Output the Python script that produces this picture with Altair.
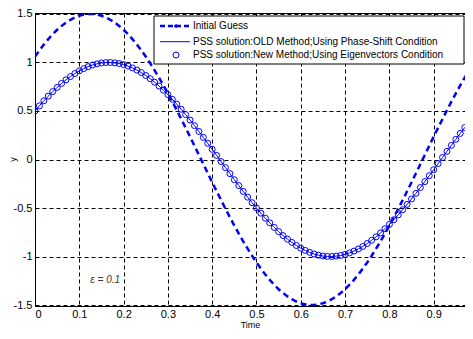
import altair as alt
import pandas as pd

# time grid
t = [0.00, 0.01, 0.02, 0.03, 0.04, 0.05, 0.06, 0.07, 0.08, 0.09,
     0.10, 0.11, 0.12, 0.13, 0.14, 0.15, 0.16, 0.17, 0.18, 0.19,
     0.20, 0.21, 0.22, 0.23, 0.24, 0.25, 0.26, 0.27, 0.28, 0.29,
     0.30, 0.31, 0.32, 0.33, 0.34, 0.35, 0.36, 0.37, 0.38, 0.39,
     0.40, 0.41, 0.42, 0.43, 0.44, 0.45, 0.46, 0.47, 0.48, 0.49,
     0.50, 0.51, 0.52, 0.53, 0.54, 0.55, 0.56, 0.57, 0.58, 0.59,
     0.60, 0.61, 0.62, 0.63, 0.64, 0.65, 0.66, 0.67, 0.68, 0.69,
     0.70, 0.71, 0.72, 0.73, 0.74, 0.75, 0.76, 0.77, 0.78, 0.79,
     0.80, 0.81, 0.82, 0.83, 0.84, 0.85, 0.86, 0.87, 0.88, 0.89,
     0.90, 0.91, 0.92, 0.93, 0.94, 0.95, 0.96, 0.97, 0.98, 0.99]

# Initial guess (dashed)
initial_guess = [
    1.061, 1.125, 1.185, 1.241, 1.291, 1.337, 1.377, 1.411, 1.440, 1.464,
    1.482, 1.493, 1.499, 1.499, 1.493, 1.482, 1.464, 1.440, 1.411, 1.377,
    1.337, 1.291, 1.241, 1.185, 1.125, 1.061, 0.992, 0.919, 0.843, 0.764,
    0.681, 0.596, 0.508, 0.418, 0.327, 0.235, 0.141, 0.047, -0.047, -0.141,
    -0.235, -0.327, -0.418, -0.508, -0.596, -0.681, -0.764, -0.843, -0.919, -0.992,
    -1.061, -1.125, -1.185, -1.241, -1.291, -1.337, -1.377, -1.411, -1.440, -1.464,
    -1.482, -1.493, -1.499, -1.499, -1.493, -1.482, -1.464, -1.440, -1.411, -1.377,
    -1.337, -1.291, -1.241, -1.185, -1.125, -1.061, -0.992, -0.919, -0.843, -0.764,
    -0.681, -0.596, -0.508, -0.418, -0.327, -0.235, -0.141, -0.047, 0.047, 0.141,
    0.235, 0.327, 0.418, 0.508, 0.596, 0.681, 0.764, 0.843, 0.919, 0.992]

# PSS solution (old method line and new method circles coincide)
pss_old = [
    0.500, 0.553, 0.605, 0.653, 0.700, 0.743, 0.784, 0.821, 0.855, 0.886,
    0.914, 0.937, 0.957, 0.974, 0.986, 0.995, 0.999, 1.000, 0.996, 0.989,
    0.978, 0.963, 0.944, 0.922, 0.896, 0.866, 0.833, 0.797, 0.757, 0.714,
    0.669, 0.621, 0.571, 0.518, 0.463, 0.407, 0.349, 0.289, 0.228, 0.167,
    0.105, 0.042, -0.021, -0.084, -0.146, -0.208, -0.269, -0.329, -0.388, -0.445,
    -0.500, -0.553, -0.605, -0.653, -0.700, -0.743, -0.784, -0.821, -0.855, -0.886,
    -0.914, -0.937, -0.957, -0.974, -0.986, -0.995, -0.999, -1.000, -0.996, -0.989,
    -0.978, -0.963, -0.944, -0.922, -0.896, -0.866, -0.833, -0.797, -0.757, -0.714,
    -0.669, -0.621, -0.571, -0.518, -0.463, -0.407, -0.349, -0.289, -0.228, -0.167,
    -0.105, -0.042, 0.021, 0.084, 0.146, 0.208, 0.269, 0.329, 0.388, 0.445]
pss_new = list(pss_old)

x_ticks = [0, 0.1, 0.2, 0.3, 0.4, 0.5, 0.6, 0.7, 0.8, 0.9]
y_ticks = [-1.5, -1, -0.5, 0, 0.5, 1, 1.5]
legend_labels = ["Initial Guess",
                 "PSS solution:OLD Method;Using Phase-Shift Condition",
                 "PSS solution:New Method;Using Eigenvectors Condition"]
annotation = "\u03b5 = 0.1"

BLUE = "#0000ff"
FONT = "Liberation Sans"
W, H = 430, 293

df = pd.DataFrame({"t": t, "guess": initial_guess, "old": pss_old, "new": pss_new})

xscale = alt.Scale(domain=[0, 0.9707], nice=False, zero=False)
yscale = alt.Scale(domain=[-1.51, 1.51], nice=False, zero=False)

xaxis = alt.Axis(values=x_ticks, labelExpr="'' + datum.value", ticks=False,
                 grid=True, gridDash=[4, 3], gridColor="#000", gridWidth=1,
                 domainColor="#000", labelFont=FONT, labelFontSize=11,
                 labelColor="#000", labelPadding=2, title="Time",
                 titleFont=FONT, titleFontSize=9, titleFontWeight="normal",
                 titleColor="#000", titlePadding=1)
yaxis = alt.Axis(values=y_ticks, labelExpr="'' + datum.value", ticks=False,
                 grid=True, gridDash=[4, 3], gridColor="#000", gridWidth=1,
                 domainColor="#000", labelFont=FONT, labelFontSize=11,
                 labelColor="#000", labelPadding=3, title="y",
                 titleFont=FONT, titleFontSize=9, titleFontWeight="normal",
                 titleColor="#000", titleX=-18, titleY=146)

base = alt.Chart(df)

guess_line = base.mark_line(color=BLUE, strokeWidth=2.5, strokeDash=[6, 4], clip=True).encode(
    x=alt.X("t:Q", scale=xscale, axis=xaxis),
    y=alt.Y("guess:Q", scale=yscale, axis=yaxis),
)
old_line = base.mark_line(color=BLUE, strokeWidth=1, clip=True).encode(
    x=alt.X("t:Q", scale=xscale),
    y=alt.Y("old:Q", scale=yscale),
)
new_pts = base.mark_point(shape="circle", filled=False, color=BLUE, size=36,
                          strokeWidth=1, opacity=1, clip=True).encode(
    x=alt.X("t:Q", scale=xscale),
    y=alt.Y("new:Q", scale=yscale),
)

eps_df = pd.DataFrame({"x": [0.125], "y": [-1.24], "label": [annotation]})
eps_text = alt.Chart(eps_df).mark_text(align="left", baseline="middle", font=FONT,
                                        fontSize=10, fontStyle="italic",
                                        color="#333").encode(
    x=alt.X("x:Q", scale=xscale), y=alt.Y("y:Q", scale=yscale), text="label:N")

one = alt.Data(values=[{}])
LX0, LX1, LY0, LY1 = 119, 429, 3, 51
rows = [13, 28.7, 42]
leg_box = alt.Chart(one).mark_rect(fill="white", stroke="#000", strokeWidth=1).encode(
    x=alt.value(LX0), x2=alt.value(LX1), y=alt.value(LY0), y2=alt.value(LY1))
leg_l1 = alt.Chart(one).mark_rule(color=BLUE, strokeWidth=2.5, strokeDash=[5, 3]).encode(
    x=alt.value(125), x2=alt.value(155), y=alt.value(rows[0]))
leg_d1 = alt.Chart(one).mark_point(shape="circle", filled=True, color=BLUE, size=14, opacity=1).encode(
    x=alt.value(141), y=alt.value(rows[0]))
leg_l2 = alt.Chart(one).mark_rule(color=BLUE, strokeWidth=1).encode(
    x=alt.value(125), x2=alt.value(155), y=alt.value(rows[1]))
leg_p3 = alt.Chart(one).mark_point(shape="circle", filled=False, color=BLUE, size=36,
                                   strokeWidth=1, opacity=1).encode(
    x=alt.value(141), y=alt.value(rows[2]))
leg_texts = [alt.Chart(one).mark_text(align="left", baseline="middle", font=FONT,
                                      fontSize=10, color="#000").encode(
    x=alt.value(158), y=alt.value(r), text=alt.value(s))
    for r, s in zip(rows, legend_labels)]

chart = alt.layer(
    guess_line, old_line, new_pts, eps_text,
    leg_box, leg_l1, leg_d1, leg_l2, leg_p3, *leg_texts
).properties(
    width=W, height=H,
    autosize=alt.AutoSizeParams(type="none"),
    padding={"left": 27, "top": 5, "right": 0, "bottom": 25},
    background="white",
).configure_view(stroke="#000", strokeWidth=1)

chart.save("out.html", embed_options={"renderer": "svg", "actions": False})
